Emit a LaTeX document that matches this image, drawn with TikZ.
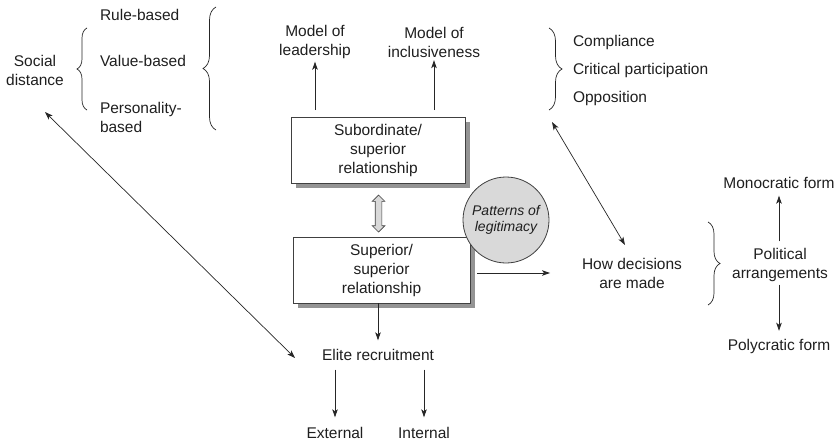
\documentclass[tikz,border=0pt]{standalone}
\usepackage{fontspec}
\setmainfont{Liberation Sans}
\usetikzlibrary{arrows.meta,decorations.pathreplacing,shapes.arrows,shadows}

\begin{document}
\begin{tikzpicture}[x=1pt,y=-1pt,
  txt/.style={font=\fontsize{15.5}{19}\selectfont, align=center, inner sep=0pt, outer sep=0pt, text=black!88},
  lefttxt/.style={txt, align=left, anchor=west},
  relbox/.style={txt, draw=black!75, line width=0.8pt, fill=white,
    minimum height=66pt,
    drop shadow={shadow xshift=5pt, shadow yshift=-5pt, fill=black!42, opacity=1}},
  patterns/.style={circle, draw=black!75, line width=0.8pt, fill=black!15,
    minimum size=86pt, inner sep=0pt,
    font=\fontsize{14}{17}\selectfont\itshape, align=center, text=black!88},
  tip/.tip={Stealth[length=8pt, width=5.5pt, inset=2pt]},
  arr/.style={-tip, line width=0.7pt, draw=black!85},
  dblarr/.style={tip-tip, line width=0.7pt, draw=black!85},
  curly/.style={decorate, decoration={brace, amplitude=#1}, line width=0.7pt, draw=black!85},
  swap/.style={double arrow, draw=black!75, fill=black!15, line width=0.7pt,
    minimum height=37pt, inner sep=3pt, double arrow head extend=3pt, rotate=90}
]
\useasboundingbox (0,0) rectangle (838,444);

% bases of social distance
\node[txt] (social) at (35,70) {Social\\distance};
\node[lefttxt] (rule) at (100,15) {Rule-based};
\node[lefttxt] (value) at (100,61) {Value-based};
\node[lefttxt] (pers) at (100,117) {Personality-\\based};
\draw[curly=10pt] (87,110) -- (87,28);
\draw[curly=13pt] (216,130) -- (216,7);

% central relationships
\node[relbox, minimum width=174pt] (sub) at (378,150) {Subordinate/\\superior\\relationship};
\node[relbox, minimum width=177pt] (sup) at (381.5,270) {Superior/\\superior\\relationship};
\node[swap] (link) at (378.5,213.5) {};
\node[patterns] (legit) at (506,220) {Patterns of\\[-1pt]legitimacy};

% models derived from the subordinate relationship
\node[txt] (lead) at (315,42) {Model of\\leadership};
\node[txt] (incl) at (434,42) {Model of\\inclusiveness};
\draw[arr, shorten <=7pt, shorten >=3pt] (sub.north -| lead) -- (lead.south);
\draw[arr, shorten <=7pt, shorten >=3pt] (sub.north -| incl) -- (incl.south);

% responses
\node[lefttxt] (compl) at (573,42) {Compliance};
\node[lefttxt] (crit) at (573,70) {Critical participation};
\node[lefttxt] (oppo) at (573,98) {Opposition};
\draw[curly=13pt] (549,28) -- (549,110);

% decision making
\node[txt] (decide) at (632,273) {How decisions\\are made};
\draw[arr, shorten <=7pt, shorten >=32pt] (sup.east |- decide) -- (decide.west);
\coordinate (respTip) at (552,122);
\coordinate (decTip) at (625,245);
\draw[dblarr] (respTip) -- (decTip);

% political arrangements
\node[txt] (polit) at (780,265) {Political\\arrangements};
\draw[curly=12pt] (708,222) -- (708,305);
\node[txt] (mono) at (779,183) {Monocratic form};
\node[txt] (poly) at (779,346) {Polycratic form};
\draw[arr, shorten <=7pt, shorten >=7pt] (polit.north -| mono) -- (mono.south);
\draw[arr, shorten <=3pt, shorten >=8pt] (polit.south -| poly) -- (poly.north);

% elite recruitment
\node[txt] (elite) at (378,355) {Elite recruitment};
\draw[arr, shorten >=9pt] (sup.south -| elite) -- (elite.north);
\node[txt] (ext) at (335,433) {External};
\node[txt] (int) at (424,433) {Internal};
\draw[arr, shorten <=9pt, shorten >=10pt] (elite.south -| ext) -- (ext.north);
\draw[arr, shorten <=9pt, shorten >=10pt] (elite.south -| int) -- (int.north);
\coordinate (socTip) at (45,112);
\coordinate (eliteTip) at (295,358);
\draw[dblarr] (socTip) -- (eliteTip);
\end{tikzpicture}
\end{document}
